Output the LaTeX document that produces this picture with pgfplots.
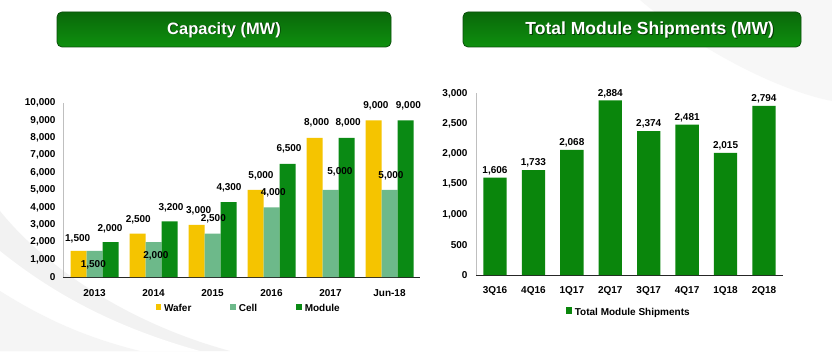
\documentclass[border=0pt]{standalone}
\usepackage{pgfplots}
\pgfplotsset{compat=1.18}
\usepackage{fontspec}
\setmainfont{Liberation Sans}
\definecolor{wafer}{HTML}{F5C400}
\definecolor{cell}{HTML}{6DB98A}
\definecolor{module}{HTML}{0A8A14}
\definecolor{ship}{HTML}{0A860C}
\definecolor{boxtop}{HTML}{0A680A}
\definecolor{boxbot}{HTML}{0E900E}
\definecolor{boxedge}{HTML}{0A4F0A}
\pgfplotsset{/pgf/number format/assume math mode=true}
\newcommand{\lbl}{\bfseries\fontsize{10}{12}\selectfont}
\begin{document}
\begin{tikzpicture}[x=1pt,y=1pt]
\fill[white] (0,0) rectangle (832,351);
% subtle background swooshes
\fill[black!5] (0,140) .. controls (40,90) and (120,30) .. (230,0) -- (0,0) -- cycle;
\fill[white] (0,100) .. controls (50,60) and (110,25) .. (200,0) -- (0,0) -- cycle;
\fill[black!4] (0,60) .. controls (40,35) and (80,15) .. (140,0) -- (0,0) -- cycle;
\fill[black!3] (640,351) .. controls (700,300) and (780,260) .. (832,250) -- (832,351) -- cycle;
% title boxes
\shade[rounded corners=5pt, top color=boxtop, bottom color=boxbot, draw=boxedge, line width=0.8pt] (57,304) rectangle (391,339);
\shade[rounded corners=5pt, top color=boxtop, bottom color=boxbot, draw=boxedge, line width=0.8pt] (463,304) rectangle (801,339);
\node[font=\bfseries\fontsize{16.5}{18}\selectfont, text=black, opacity=0.55] at (224.9,320.3) {Capacity (MW)};
\node[font=\bfseries\fontsize{16.5}{18}\selectfont, text=white] at (224,321) {Capacity (MW)};
\node[font=\bfseries\fontsize{17.5}{19}\selectfont, text=black, opacity=0.55] at (650.6,320.3) {Total Module Shipments (MW)};
\node[font=\bfseries\fontsize{17.5}{19}\selectfont, text=white] at (649.7,321) {Total Module Shipments (MW)};

% left chart
\begin{axis}[at={(63pt,74pt)}, anchor=south west, scale only axis,
  width=357pt, height=174pt,
  ybar, bar width=16pt,
  xmin=-0.534, xmax=5.517, ymin=0, ymax=10000,
  xtick={0,...,5}, xticklabels={2013,2014,2015,2016,2017,Jun-18},
  ytick={0,1000,...,10000}, scaled y ticks=false,
  axis x line*=bottom, axis y line*=left,
  x axis line style={black!85, line width=0.7pt},
  y axis line style={black!25, line width=0.5pt},
  major tick length=0pt,
  ticklabel style={font=\lbl, text=black},
  xticklabel style={yshift=-8.5pt},
  yticklabel style={xshift=-4pt},
  clip=false,
  legend columns=3,
  legend style={at={(0.52,-0.184)}, anchor=center, draw=none, fill=none,
    font=\lbl, inner sep=0pt,
    /tikz/every even column/.append style={column sep=37pt},
    /tikz/every odd column/.append style={column sep=1pt}},
  legend image code/.code={\fill[#1] (0pt,-1pt) rectangle (5.5pt,5pt);},
]
\addplot[fill=wafer, draw=none, bar shift=-16pt] coordinates {(0,1500) (1,2500) (2,3000) (3,5000) (4,8000) (5,9000)};
\addplot[fill=cell, draw=none, bar shift=0pt] coordinates {(0,1500) (1,2000) (2,2500) (3,4000) (4,5000) (5,5000)};
\addplot[fill=module, draw=none, bar shift=16pt] coordinates {(0,2000) (1,3200) (2,4300) (3,6500) (4,8000) (5,9000)};
\legend{Wafer, Cell, Module}
\node[font=\lbl] at (axis cs:-0.285,2200) {1,500};
\node[font=\lbl] at (axis cs:-0.02,730) {1,500};
\node[font=\lbl] at (axis cs:0.263,2760) {2,000};
\node[font=\lbl] at (axis cs:0.742,3280) {2,500};
\node[font=\lbl] at (axis cs:1.04,1220) {2,000};
\node[font=\lbl] at (axis cs:1.297,3980) {3,200};
\node[font=\lbl] at (axis cs:1.766,3810) {3,000};
\node[font=\lbl] at (axis cs:2.014,3330) {2,500};
\node[font=\lbl] at (axis cs:2.28,5100) {4,300};
\node[font=\lbl] at (axis cs:2.822,5820) {5,000};
\node[font=\lbl] at (axis cs:3.03,4840) {4,000};
\node[font=\lbl] at (axis cs:3.297,7360) {6,500};
\node[font=\lbl] at (axis cs:3.766,8890) {8,000};
\node[font=\lbl] at (axis cs:4.16,6020) {5,000};
\node[font=\lbl] at (axis cs:4.30,8890) {8,000};
\node[font=\lbl] at (axis cs:4.77,9840) {9,000};
\node[font=\lbl] at (axis cs:5.025,5820) {5,000};
\node[font=\lbl] at (axis cs:5.32,9840) {9,000};
\end{axis}

% right chart
\begin{axis}[at={(476pt,76pt)}, anchor=south west, scale only axis,
  width=306.7pt, height=181.7pt,
  ybar, bar width=23.3pt,
  xmin=-0.494, xmax=7.487, ymin=0, ymax=3000,
  xtick={0,...,7}, xticklabels={3Q16,4Q16,1Q17,2Q17,3Q17,4Q17,1Q18,2Q18},
  ytick={0,500,...,3000}, scaled y ticks=false,
  axis x line*=bottom, axis y line*=left,
  x axis line style={black!85, line width=0.7pt},
  y axis line style={black!25, line width=0.5pt},
  major tick length=0pt,
  ticklabel style={font=\lbl, text=black},
  xticklabel style={yshift=-8pt},
  yticklabel style={xshift=-5pt},
  nodes near coords,
  nodes near coords style={font=\lbl, text=black, inner sep=2.5pt},
  clip=false,
  legend style={at={(0.498,-0.209)}, anchor=center, draw=none, fill=none,
    font=\lbl, inner sep=0pt,
    /tikz/every odd column/.append style={column sep=1pt}},
  legend image code/.code={\fill[#1] (0pt,-1pt) rectangle (6pt,6pt);},
]
\addplot[fill=ship, draw=none] coordinates {(0,1606) (1,1733) (2,2068) (3,2884) (4,2374) (5,2481) (6,2015) (7,2794)};
\legend{Total Module Shipments}
\end{axis}
\end{tikzpicture}
\end{document}
